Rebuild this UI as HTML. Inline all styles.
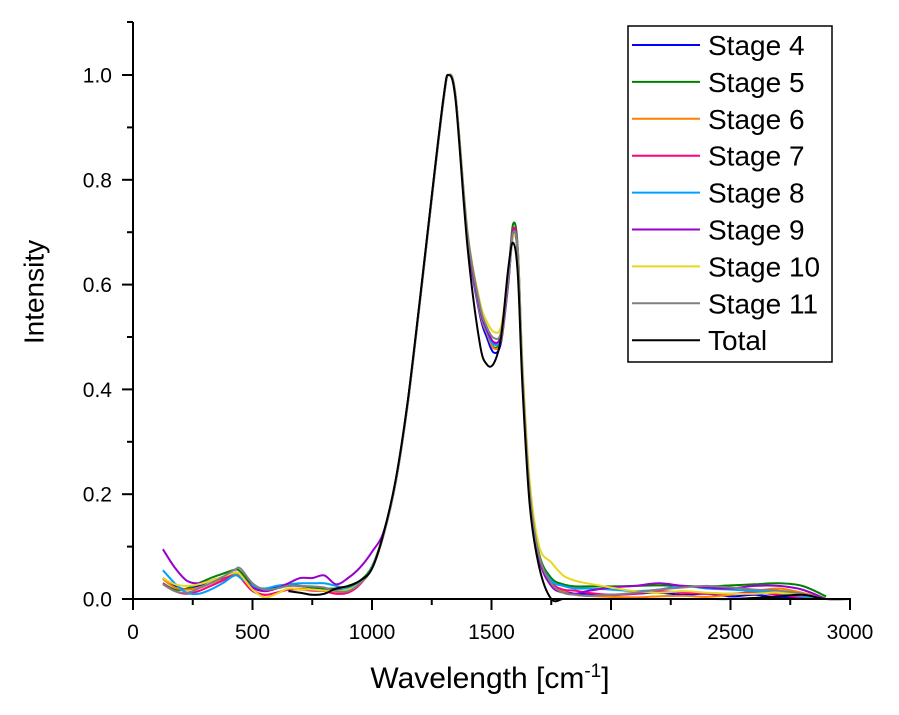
<!DOCTYPE html>
<html><head><meta charset="utf-8"><style>
body{margin:0;background:#fff;}
svg{display:block;font-family:"Liberation Sans",Arial,sans-serif;}
</style></head><body>
<svg id="chart" width="899" height="715" viewBox="0 0 899 715">
<g id="plot"></g>
<g id="axes"></g>
<text x="36" y="292" transform="rotate(-90 36 292)" text-anchor="middle" dominant-baseline="middle" font-size="28">Intensity</text>
<text x="490" y="688" text-anchor="middle" font-size="30">Wavelength [cm<tspan dy="-11" font-size="19">-1</tspan><tspan dy="11">]</tspan></text>
<g id="legend"></g>
</svg>
<script>
const xs=[125,175,225,275,325,375,425,450,500,550,600,650,700,750,800,850,900,950,1000,1050,1100,1150,1200,1250,1300,1320,1350,1400,1450,1480,1510,1540,1570,1590,1610,1630,1660,1700,1750,1800,1850,1900,2000,2100,2200,2300,2400,2500,2600,2700,2800,2900];
const stage4=[0.040,0.025,0.018,0.025,0.035,0.042,0.050,0.045,0.022,0.018,0.022,0.026,0.025,0.022,0.020,0.016,0.018,0.030,0.060,0.125,0.225,0.375,0.565,0.765,0.955,1.0,0.955,0.685,0.545,0.500,0.470,0.490,0.600,0.695,0.655,0.420,0.195,0.075,0.030,0.015,0.010,0.010,0.008,0.010,0.012,0.008,0.010,0.005,0.008,0.003,0.004,0.0];
const stage5=[0.030,0.018,0.020,0.030,0.040,0.048,0.056,0.052,0.025,0.015,0.020,0.025,0.025,0.022,0.020,0.020,0.022,0.035,0.062,0.128,0.228,0.378,0.568,0.768,0.958,1.0,0.957,0.690,0.555,0.510,0.480,0.500,0.615,0.715,0.670,0.430,0.205,0.085,0.040,0.028,0.024,0.024,0.024,0.025,0.026,0.025,0.024,0.026,0.028,0.030,0.025,0.005];
const stage6=[0.038,0.022,0.018,0.022,0.030,0.038,0.048,0.044,0.018,0.008,0.012,0.018,0.020,0.018,0.016,0.012,0.015,0.030,0.060,0.126,0.226,0.376,0.566,0.766,0.956,1.0,0.956,0.688,0.550,0.508,0.478,0.495,0.605,0.700,0.660,0.425,0.200,0.078,0.030,0.015,0.008,0.006,0.004,0.003,0.005,0.006,0.004,0.008,0.015,0.020,0.012,0.0];
const stage7=[0.030,0.015,0.010,0.015,0.025,0.035,0.045,0.040,0.015,0.008,0.012,0.018,0.018,0.016,0.015,0.010,0.012,0.028,0.060,0.126,0.226,0.376,0.566,0.766,0.956,1.0,0.957,0.690,0.555,0.512,0.488,0.505,0.615,0.705,0.665,0.428,0.202,0.080,0.032,0.018,0.016,0.012,0.008,0.010,0.015,0.012,0.010,0.010,0.012,0.008,0.003,0.0];
const stage8=[0.055,0.030,0.012,0.010,0.018,0.030,0.045,0.040,0.025,0.020,0.025,0.028,0.030,0.030,0.030,0.025,0.020,0.032,0.060,0.126,0.226,0.376,0.566,0.766,0.956,1.0,0.957,0.692,0.555,0.512,0.485,0.502,0.610,0.700,0.660,0.426,0.202,0.080,0.035,0.025,0.020,0.020,0.018,0.015,0.018,0.025,0.020,0.018,0.015,0.012,0.005,0.0];
const stage9=[0.095,0.060,0.035,0.030,0.035,0.040,0.050,0.046,0.022,0.015,0.020,0.030,0.040,0.040,0.045,0.028,0.040,0.060,0.090,0.130,0.228,0.378,0.568,0.768,0.958,1.0,0.958,0.693,0.558,0.515,0.490,0.505,0.610,0.700,0.662,0.428,0.200,0.075,0.025,0.012,0.010,0.015,0.022,0.025,0.030,0.025,0.022,0.020,0.025,0.025,0.018,0.0];
const stage10=[0.040,0.028,0.025,0.028,0.035,0.042,0.050,0.046,0.018,0.003,0.010,0.020,0.018,0.018,0.016,0.015,0.018,0.030,0.058,0.124,0.224,0.374,0.564,0.764,0.954,1.0,0.960,0.700,0.570,0.530,0.510,0.520,0.615,0.690,0.665,0.445,0.225,0.100,0.070,0.045,0.035,0.030,0.022,0.015,0.012,0.015,0.012,0.010,0.010,0.012,0.008,0.0];
const stage11=[0.028,0.015,0.012,0.020,0.030,0.042,0.056,0.058,0.030,0.018,0.020,0.025,0.025,0.024,0.022,0.015,0.015,0.030,0.058,0.124,0.224,0.374,0.564,0.764,0.954,1.0,0.959,0.698,0.563,0.520,0.498,0.510,0.612,0.698,0.662,0.430,0.205,0.082,0.030,0.012,0.008,0.006,0.008,0.012,0.018,0.022,0.025,0.022,0.018,0.016,0.010,0.0];
const total=[null,null,null,null,null,null,null,null,null,null,null,0.015,0.012,0.008,0.010,0.020,0.025,0.035,0.058,0.128,0.230,0.380,0.570,0.770,0.960,1.0,0.950,0.670,0.490,0.448,0.450,0.500,0.630,0.680,0.620,0.400,0.180,0.060,0.0,0.0,0.0,0.0,0.0,0.0,0.0,0.0,0.0,0.0,0.002,0.005,0.008,0.0];
const seriesNames=["Stage 4","Stage 5","Stage 6","Stage 7","Stage 8","Stage 9","Stage 10","Stage 11","Total"];
const seriesData=[stage4,stage5,stage6,stage7,stage8,stage9,stage10,stage11,total];
const seriesColors=["#0000ff","#008000","#ff8000","#ff0080","#00a0ff","#9900cc","#e6d820","#808080","#000000"];
const xTicks=[0,500,1000,1500,2000,2500,3000];
const yTicks=[0.0,0.2,0.4,0.6,0.8,1.0];

const NS="http://www.w3.org/2000/svg";
const X0=133,X1=850,Y0=599,Y1=75;
const sx=v=>X0+(v/3000)*(X1-X0);
const sy=v=>Y0-v*(Y0-Y1);
function mk(tag,attrs,parent){const e=document.createElementNS(NS,tag);for(const k in attrs)e.setAttribute(k,attrs[k]);parent.appendChild(e);return e;}
function smooth(pts){
  if(pts.length<2)return "";
  let d="M"+pts[0][0].toFixed(1)+","+pts[0][1].toFixed(1);
  for(let i=0;i<pts.length-1;i++){
    const p0=pts[Math.max(0,i-1)],p1=pts[i],p2=pts[i+1],p3=pts[Math.min(pts.length-1,i+2)];
    const c1x=p1[0]+(p2[0]-p0[0])/6,c1y=p1[1]+(p2[1]-p0[1])/6;
    const c2x=p2[0]-(p3[0]-p1[0])/6,c2y=p2[1]-(p3[1]-p1[1])/6;
    d+="C"+c1x.toFixed(1)+","+c1y.toFixed(1)+" "+c2x.toFixed(1)+","+c2y.toFixed(1)+" "+p2[0].toFixed(1)+","+p2[1].toFixed(1);
  }
  return d;
}
const plot=document.getElementById('plot'),axes=document.getElementById('axes'),leg=document.getElementById('legend');

seriesData.forEach((arr,i)=>{
  const pts=[];
  arr.forEach((v,j)=>{if(v!==null)pts.push([sx(xs[j]),Math.min(Y0,sy(v))]);});
  if(i===8)pts.push([sx(3000),sy(0)]);
  const p=mk('path',{d:smooth(pts),fill:'none',stroke:seriesColors[i],'stroke-width':2,'stroke-linejoin':'round'},plot);
  
  
});

const ya=mk('line',{x1:X0,y1:Y0+1,x2:X0,y2:22,stroke:'#000','stroke-width':2},axes);


const xa=mk('line',{x1:X0-1,y1:Y0,x2:X1+1,y2:Y0,stroke:'#000','stroke-width':2},axes);


mk('line',{x1:X0,y1:22,x2:X0-6,y2:22,stroke:'#000','stroke-width':2},axes);
for(let v=0;v<=3000;v+=250){const maj=v%500===0;mk('line',{x1:sx(v),y1:Y0,x2:sx(v),y2:Y0+(maj?11:6),stroke:'#000','stroke-width':2},axes);}
for(let k=0;k<=10;k++){const v=k/10;const maj=k%2===0;mk('line',{x1:X0,y1:sy(v),x2:X0-(maj?11:6),y2:sy(v),stroke:'#000','stroke-width':2},axes);}
xTicks.forEach(v=>{const t=mk('text',{x:sx(v),y:639,'text-anchor':'middle','font-size':21},axes);t.textContent=v;
  
  });
yTicks.forEach(v=>{const t=mk('text',{x:112,y:sy(v)+7.5,'text-anchor':'end','font-size':21},axes);t.textContent=v.toFixed(1);
  
  });

const box=mk('rect',{x:628,y:26,width:204,height:336,fill:'#fff',stroke:'#000','stroke-width':1.5},leg);


seriesNames.forEach((n,i)=>{
  const y=45+i*36.9;
  const g=mk('g',{},leg);
  
  
  mk('line',{x1:632,y1:y,x2:700,y2:y,stroke:seriesColors[i],'stroke-width':2},g);
  const t=mk('text',{x:708,y:y+10,'font-size':28},g);t.textContent=n;
});
</script>
</body></html>
